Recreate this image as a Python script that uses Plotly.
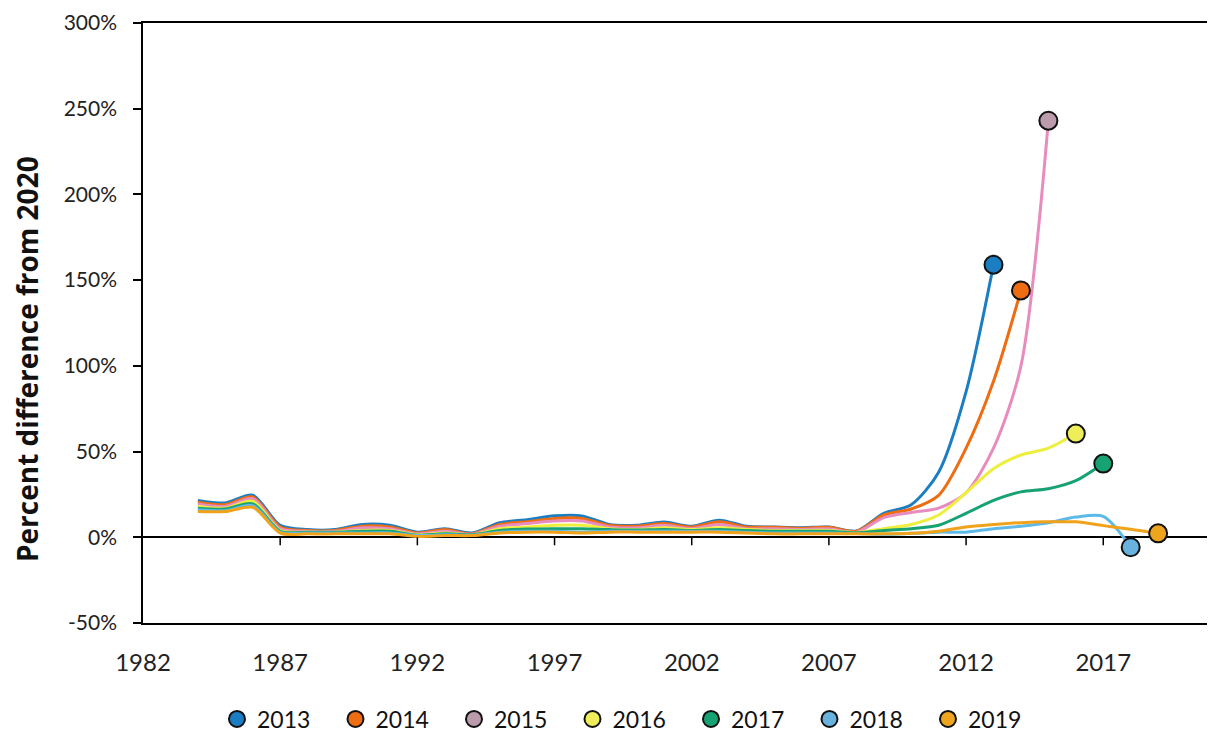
import plotly.graph_objects as go

series_names = ["2013", "2014", "2015", "2016", "2017", "2018", "2019"]
start_year = 1984

v2013 = [21.5, 20, 24.5, 7, 4.5, 4.5, 7.5, 7, 3, 5, 2.5, 8.5, 10.3, 12.5, 12.5, 7.5, 7, 8.9, 6.4, 10, 6.4, 6, 5.6, 6, 3.7,
         14, 19, 38, 85, 159]
v2014 = [20.5, 19, 23.5, 6, 4, 4, 6.5, 6, 2.5, 4.5, 2, 7.5, 9, 11, 11, 7, 6.5, 8, 6, 9, 6, 5.8, 5.3, 5.8, 3.5,
         13, 16.5, 24.5, 52, 91, 144]
v2015 = [19.5, 18, 22.5, 5, 3.5, 3.5, 5.5, 5, 2, 3.5, 1.8, 6.5, 8, 9.5, 9.5, 6, 5.5, 7, 5, 7.5, 5, 5, 4.6, 5, 3,
         11.5, 14.5, 17, 26, 52, 100, 243]
v2016 = [18, 17, 21, 4, 3, 3, 4, 4, 1.5, 2.5, 1.5, 5, 6, 7, 7, 5, 4.5, 5.5, 4.5, 5.5, 4.5, 4, 4, 4, 2.8,
         5, 7.5, 13, 26, 40, 48, 52, 60.5]
v2017 = [17, 16.5, 19.5, 3.5, 3, 3, 3.5, 3.5, 1.2, 2, 1.5, 4, 4.8, 5, 5, 4.5, 4.2, 4.5, 4, 4.5, 4, 3.5, 3.5, 3.5, 2.6,
         4, 5, 7, 14, 21.5, 26.5, 28.3, 33, 43]
v2018 = [16, 15.5, 18.5, 3, 2.5, 2.5, 2.5, 2.5, 1, 1.5, 1.2, 3, 3.5, 3.5, 3, 3.5, 3.5, 3.5, 3.5, 3.5, 3, 2.5, 2.5, 2.5, 2.2,
         1.7, 2.3, 3, 3, 5, 6.5, 8.5, 11.8, 12.2, -5.8]
v2019 = [15, 15, 17.5, 2.5, 2, 2, 2, 2, 0.5, 1, 1, 2.5, 3, 3, 2.5, 3, 3, 3, 3, 3, 2.5, 2, 2, 2, 2,
         2, 2.3, 3.5, 6, 7.4, 8.5, 9, 9, 6.8, 4.7, 2.3]

values = [v2013, v2014, v2015, v2016, v2017, v2018, v2019]
line_colors = ["#1B7DC2", "#EE6C12", "#E88BBE", "#EEEE3C", "#17A274", "#5DB9E8", "#F0A21A"]
marker_colors = ["#1B7DC2", "#EE6C12", "#BC9CAC", "#EEEE5A", "#17A274", "#6AB2DE", "#EDA520"]

x_tickvals = [1982, 1987, 1992, 1997, 2002, 2007, 2012, 2017]
y_tickvals = [-0.5, 0, 0.5, 1.0, 1.5, 2.0, 2.5, 3.0]
y_ticktext = ["-50%", "0%", "50%", "100%", "150%", "200%", "250%", "300%"]
y_title = "Percent difference from 2020"

FONT = "Lato"

fig = go.Figure()

for name, vals, lc in zip(series_names, values, line_colors):
    years = list(range(start_year, start_year + len(vals)))
    yv = [v / 100 for v in vals]
    fig.add_trace(go.Scatter(
        x=years, y=yv, mode="lines", name=name, showlegend=False,
        line=dict(color=lc, width=3, shape="spline", smoothing=0.8),
        hoverinfo="skip"))
for name, vals, mc in zip(series_names, values, marker_colors):
    years = list(range(start_year, start_year + len(vals)))
    fig.add_trace(go.Scatter(
        x=[years[-1]], y=[vals[-1] / 100], mode="markers", name=name,
        marker=dict(color=mc, size=18, line=dict(color="#111111", width=2))))

shapes = []
for tv in x_tickvals[1:]:
    shapes.append(dict(type="line", xref="x", yref="y", ysizemode="pixel", yanchor=0,
                       x0=tv, x1=tv, y0=0, y1=-8,
                       line=dict(color="#000000", width=1.5)))

fig.update_layout(
    width=1207, height=726,
    margin=dict(l=135, r=2, t=15, b=111, autoexpand=False),
    paper_bgcolor="white", plot_bgcolor="white",
    font=dict(family=FONT, size=22, color="#222222"),
    shapes=shapes,
    showlegend=True,
    legend=dict(orientation="h", x=0.457, xanchor="center", y=-0.16, yanchor="middle",
                font=dict(family=FONT, size=23, color="#111111"),
                entrywidth=73.5, entrywidthmode="pixels", tracegroupgap=0),
    annotations=[dict(text="<b>" + y_title + "</b>", textangle=-90, showarrow=False,
                      xref="paper", yref="paper", x=-0.1084, y=0.44,
                      xanchor="center", yanchor="middle",
                      font=dict(family="Open Sans", size=28, color="#111111"))],
    xaxis=dict(range=[1982, 2021], tickvals=x_tickvals, ticktext=[str(t) for t in x_tickvals],
               showgrid=False, zeroline=False, showline=True, mirror=True, automargin=False,
               linecolor="#000000", linewidth=1.5, ticks="", ticklabelstandoff=17,
               tickfont=dict(family=FONT, size=24, color="#222222")),
    yaxis=dict(range=[-0.5, 3.0], tickvals=y_tickvals, ticktext=y_ticktext, automargin=False,
               ticklabeloverflow="allow",
               showgrid=False, zeroline=True, zerolinecolor="#000000", zerolinewidth=1.5,
               showline=True, linecolor="#000000", linewidth=1.5,
               ticks="outside", ticklen=8, tickcolor="#000000", tickwidth=1.5,
               ticklabelstandoff=12,
               tickfont=dict(family=FONT, size=21, color="#222222")),
)

fig.write_html("out.html")
